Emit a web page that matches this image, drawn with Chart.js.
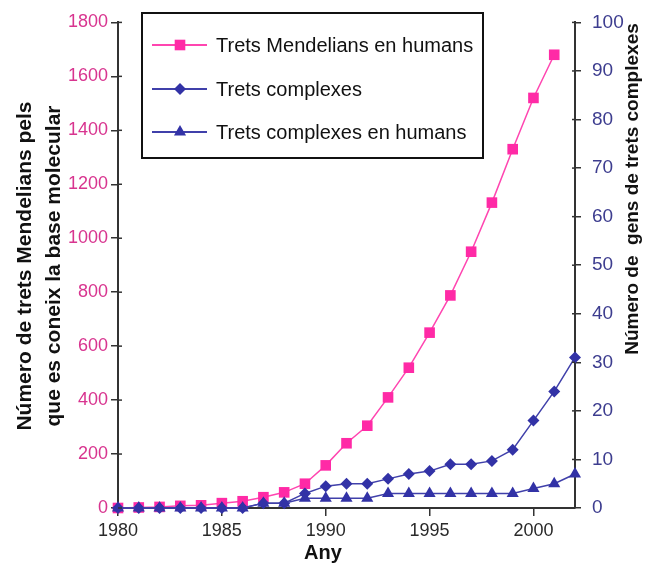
<!DOCTYPE html>
<html><head><meta charset="utf-8">
<script src="https://cdn.jsdelivr.net/npm/chart.js@4/dist/chart.umd.min.js"></script>
<style>html,body{margin:0;padding:0;background:#fff}#wrap{width:649px;height:564px;position:relative}</style>
</head><body><div id="wrap"><canvas id="c" width="649" height="564"></canvas></div>
<script>
const years = [1980,1981,1982,1983,1984,1985,1986,1987,1988,1989,1990,1991,1992,1993,1994,1995,1996,1997,1998,1999,2000,2001,2002];
const mendelianHumans = [0,2,4,8,10,18,25,40,58,90,158,240,305,410,520,650,788,950,1132,1330,1520,1680];
const complexTraits = [0,0,0,0,0,0,0,1,1,3,4.5,5,5,6,7,7.6,9,9,9.7,12,18,24,31];
const complexTraitsHumans = [0,0,0,0,0,0,0,1,1,2,2,2,2,3,3,3,3,3,3,3,4,5,7];
const seriesNames = ['Trets Mendelians en humans','Trets complexes','Trets complexes en humans'];
const leftTicks = [0,200,400,600,800,1000,1200,1400,1600,1800];
const rightTicks = [0,10,20,30,40,50,60,70,80,90,100];
const xTickYears = [1980,1985,1990,1995,2000];
const leftTitle = ['Número de trets Mendelians pels','que es coneix la base molecular'];
const rightTitle = 'Número de  gens de trets complexes';
const xTitle = 'Any';

const PINK = '#ff2aa6', PINK_LINE = '#ff45b0', BLUE = '#3232a6', BLUE_LINE = '#4040aa';
const FONT = '"Liberation Sans", Arial, Helvetica, sans-serif';

function toXY(vals){ return vals.map((v,i)=>({x:years[i], y:v})); }

const styles = [
  {color:PINK, line:PINK_LINE, pointStyle:'rect', radius:7.5},
  {color:BLUE, line:BLUE_LINE, pointStyle:'rectRot', radius:6},
  {color:BLUE, line:BLUE_LINE, pointStyle:'triangle', radius:7}
];

const extras = {
  id:'extras',
  afterDraw(chart){
    const ctx = chart.ctx, a = chart.chartArea;
    const yL = chart.scales.y, yR = chart.scales.y1;
    ctx.save();
    ctx.strokeStyle = '#333'; ctx.lineWidth = 1.5;
    yL.ticks.forEach(t=>{ const p = yL.getPixelForValue(t.value); ctx.beginPath(); ctx.moveTo(a.left, p); ctx.lineTo(a.left+4, p); ctx.stroke(); });
    yR.ticks.forEach(t=>{ const p = yR.getPixelForValue(t.value); ctx.beginPath(); ctx.moveTo(a.right-3, p); ctx.lineTo(a.right, p); ctx.stroke(); });
    // legend
    const bx = 142, by = 13, bw = 341, bh = 145;
    ctx.fillStyle = '#fff'; ctx.fillRect(bx,by,bw,bh);
    ctx.strokeStyle = '#111'; ctx.lineWidth = 2; ctx.strokeRect(bx,by,bw,bh);
    const rows = [45, 89, 132];
    ctx.font = '20px ' + FONT; ctx.textBaseline = 'middle'; ctx.textAlign = 'left';
    seriesNames.forEach((n,i)=>{
      const s = styles[i], y = rows[i];
      ctx.strokeStyle = s.line; ctx.lineWidth = 2;
      ctx.beginPath(); ctx.moveTo(152,y); ctx.lineTo(207,y); ctx.stroke();
      ctx.fillStyle = s.color;
      Chart.helpers.drawPoint(ctx, {pointStyle:s.pointStyle, radius:s.radius, rotation:0, borderWidth:0}, 180, y);
      ctx.fillStyle = '#111';
      ctx.fillText(n, 216, y+1);
    });
    // axis titles
    ctx.fillStyle = '#111';
    ctx.textAlign = 'center'; ctx.textBaseline = 'middle';
    ctx.font = 'bold 21px ' + FONT;
    const lc = [25, 54];
    leftTitle.forEach((t,i)=>{ ctx.save(); ctx.translate(lc[i], 266); ctx.rotate(-Math.PI/2); ctx.fillText(t,0,0); ctx.restore(); });
    ctx.font = 'bold 19px ' + FONT;
    ctx.save(); ctx.translate(633, 189); ctx.rotate(-Math.PI/2); ctx.fillText(rightTitle,0,0); ctx.restore();
    ctx.font = 'bold 20px ' + FONT;
    ctx.textBaseline = 'alphabetic';
    ctx.fillText(xTitle, 323, 559);
    ctx.restore();
  }
};

new Chart(document.getElementById('c'), {
  type:'line',
  data:{ datasets:[
    {label:seriesNames[0], data:toXY(mendelianHumans), yAxisID:'y', borderColor:PINK_LINE, borderWidth:1.5, pointStyle:'rect', pointRadius:7.5, pointBackgroundColor:PINK, pointBorderColor:PINK, pointBorderWidth:0, tension:0, clip:false, order:3},
    {label:seriesNames[1], data:toXY(complexTraits), yAxisID:'y1', borderColor:BLUE_LINE, borderWidth:1.5, pointStyle:'rectRot', pointRadius:6, pointBackgroundColor:BLUE, pointBorderColor:BLUE, pointBorderWidth:0, tension:0, clip:false, order:2},
    {label:seriesNames[2], data:toXY(complexTraitsHumans), yAxisID:'y1', borderColor:BLUE_LINE, borderWidth:1.5, pointStyle:'triangle', pointRadius:7, pointBackgroundColor:BLUE, pointBorderColor:BLUE, pointBorderWidth:0, tension:0, clip:false, order:1}
  ]},
  options:{
    responsive:false, animation:false, devicePixelRatio:1,
    layout:{padding:{top:22,left:0,right:0,bottom:0}},
    plugins:{legend:{display:false}, tooltip:{enabled:false}},
    scales:{
      x:{type:'linear', position:'bottom', min:1980, max:2002,
        afterBuildTicks:s=>{ s.ticks = xTickYears.map(v=>({value:v})); },
        afterFit:s=>{ s.height = 56; },
        ticks:{color:'#2a2a2a', font:{size:18, family:FONT}, padding:4, maxRotation:0, autoSkip:false, callback:v=>String(v)},
        grid:{drawOnChartArea:false, drawTicks:true, tickLength:8, color:'#333', lineWidth:1.5},
        border:{display:true, color:'#333', width:2}},
      y:{type:'linear', position:'left', min:0, max:1800,
        afterBuildTicks:s=>{ s.ticks = leftTicks.map(v=>({value:v})); },
        afterFit:s=>{ s.width = 118; },
        ticks:{color:'#d8348f', font:{size:18, family:FONT}, padding:3, callback:v=>String(v)},
        grid:{drawOnChartArea:false, drawTicks:true, tickLength:7, color:'#333', lineWidth:1.5},
        border:{display:true, color:'#333', width:2}},
      y1:{type:'linear', position:'right', min:0, max:100,
        afterBuildTicks:s=>{ s.ticks = rightTicks.map(v=>({value:v})); },
        afterFit:s=>{ s.width = 74; },
        ticks:{color:'#3d3d8f', font:{size:19, family:FONT}, padding:11, callback:v=>String(v)},
        grid:{drawOnChartArea:false, drawTicks:true, tickLength:6, color:'#333', lineWidth:1.5},
        border:{display:true, color:'#333', width:2}}
    }
  },
  plugins:[extras]
});
</script></body></html>
